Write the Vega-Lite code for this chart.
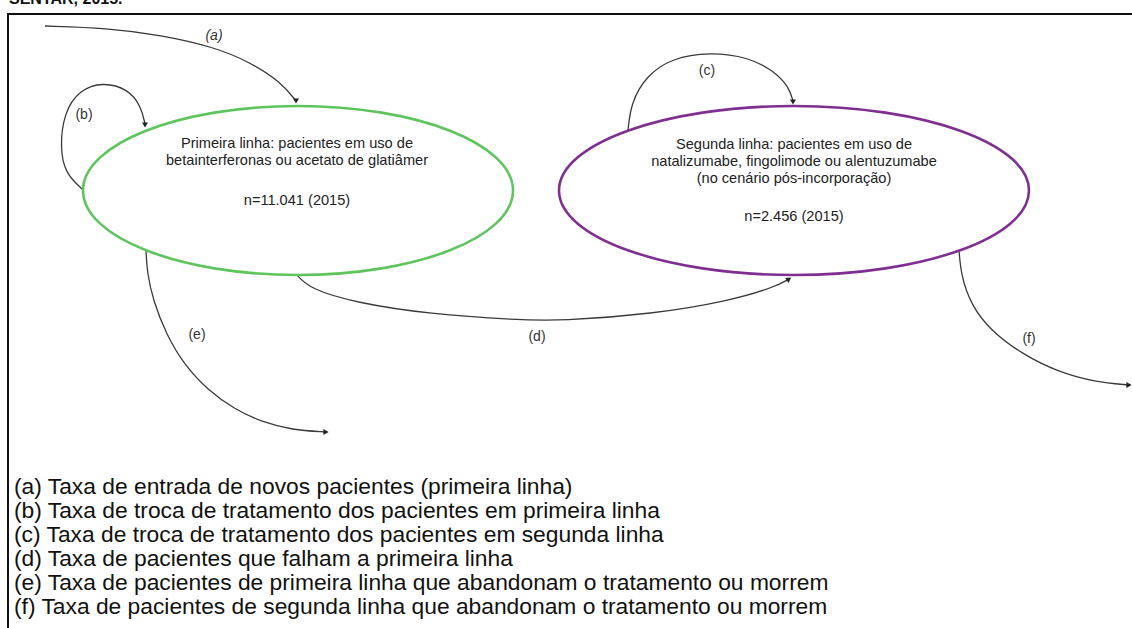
{
  "$schema": "https://vega.github.io/schema/vega-lite/v6.json",
  "width": 1132,
  "height": 628,
  "padding": 0,
  "autosize": {"type": "none"},
  "background": "white",
  "config": {"view": {"stroke": null}},
  "datasets": {
    "frame": [
      {"o": 0, "x": 1132, "y": 14},
      {"o": 1, "x": 8, "y": 14},
      {"o": 2, "x": 8, "y": 628}
    ],
    "nodes": [
      {"node": "primeira", "x": 298, "y": 190.5},
      {"node": "segunda", "x": 794, "y": 190.5}
    ],
    "curves": [
      {"c": "a", "o": 0, "x": 45, "y": 26},
      {"c": "a", "o": 1, "x": 107, "y": 28},
      {"c": "a", "o": 2, "x": 161, "y": 35},
      {"c": "a", "o": 3, "x": 214, "y": 47},
      {"c": "a", "o": 4, "x": 250, "y": 62},
      {"c": "a", "o": 5, "x": 282, "y": 83},
      {"c": "a", "o": 6, "x": 296, "y": 101},
      {"c": "b", "o": 0, "x": 82, "y": 189},
      {"c": "b", "o": 1, "x": 65, "y": 173},
      {"c": "b", "o": 2, "x": 60, "y": 147},
      {"c": "b", "o": 3, "x": 64, "y": 113},
      {"c": "b", "o": 4, "x": 79, "y": 90},
      {"c": "b", "o": 5, "x": 103, "y": 82},
      {"c": "b", "o": 6, "x": 128, "y": 89},
      {"c": "b", "o": 7, "x": 141, "y": 106},
      {"c": "b", "o": 8, "x": 145, "y": 124},
      {"c": "c", "o": 0, "x": 628, "y": 130},
      {"c": "c", "o": 1, "x": 631, "y": 103},
      {"c": "c", "o": 2, "x": 646, "y": 76},
      {"c": "c", "o": 3, "x": 672, "y": 58},
      {"c": "c", "o": 4, "x": 710, "y": 52},
      {"c": "c", "o": 5, "x": 748, "y": 57},
      {"c": "c", "o": 6, "x": 774, "y": 71},
      {"c": "c", "o": 7, "x": 789, "y": 87},
      {"c": "c", "o": 8, "x": 793, "y": 101},
      {"c": "d", "o": 0, "x": 297, "y": 275},
      {"c": "d", "o": 1, "x": 310, "y": 289},
      {"c": "d", "o": 2, "x": 357, "y": 303},
      {"c": "d", "o": 3, "x": 429, "y": 314},
      {"c": "d", "o": 4, "x": 518, "y": 320},
      {"c": "d", "o": 5, "x": 560, "y": 321},
      {"c": "d", "o": 6, "x": 653, "y": 314},
      {"c": "d", "o": 7, "x": 729, "y": 301},
      {"c": "d", "o": 8, "x": 775, "y": 287},
      {"c": "d", "o": 9, "x": 789, "y": 279},
      {"c": "e", "o": 0, "x": 146, "y": 250},
      {"c": "e", "o": 1, "x": 147, "y": 272},
      {"c": "e", "o": 2, "x": 153, "y": 300},
      {"c": "e", "o": 3, "x": 166, "y": 334},
      {"c": "e", "o": 4, "x": 185, "y": 366},
      {"c": "e", "o": 5, "x": 208, "y": 390},
      {"c": "e", "o": 6, "x": 234, "y": 409},
      {"c": "e", "o": 7, "x": 262, "y": 422},
      {"c": "e", "o": 8, "x": 292, "y": 430},
      {"c": "e", "o": 9, "x": 326, "y": 432},
      {"c": "f", "o": 0, "x": 959, "y": 250},
      {"c": "f", "o": 1, "x": 961, "y": 275},
      {"c": "f", "o": 2, "x": 971, "y": 305},
      {"c": "f", "o": 3, "x": 991, "y": 331},
      {"c": "f", "o": 4, "x": 1022, "y": 354},
      {"c": "f", "o": 5, "x": 1058, "y": 372},
      {"c": "f", "o": 6, "x": 1095, "y": 382},
      {"c": "f", "o": 7, "x": 1129, "y": 385}
    ],
    "arrows": [
      {"c": "a", "dir": "down", "x": 296, "y": 101},
      {"c": "b", "dir": "down", "x": 145, "y": 125},
      {"c": "c", "dir": "down", "x": 793, "y": 102},
      {"c": "d", "dir": "upright", "x": 789, "y": 279},
      {"c": "e", "dir": "right", "x": 326, "y": 432},
      {"c": "f", "dir": "right", "x": 1129, "y": 385}
    ],
    "labels": [
      {"c": "a", "text": "(a)", "x": 214, "y": 36},
      {"c": "b", "text": "(b)", "x": 84, "y": 115},
      {"c": "c", "text": "(c)", "x": 707, "y": 71},
      {"c": "d", "text": "(d)", "x": 537, "y": 337},
      {"c": "e", "text": "(e)", "x": 197, "y": 335},
      {"c": "f", "text": "(f)", "x": 1029, "y": 339}
    ],
    "nodetext": [
      {"text": "Primeira linha: pacientes em uso de", "x": 297, "y": 144},
      {"text": "betainterferonas ou acetato de glatiâmer", "x": 297, "y": 161},
      {"text": "n=11.041 (2015)", "x": 297, "y": 201},
      {"text": "Segunda linha: pacientes em uso de", "x": 794, "y": 145},
      {"text": "natalizumabe, fingolimode ou alentuzumabe", "x": 794, "y": 162},
      {"text": "(no cenário pós-incorporação)", "x": 794, "y": 179},
      {"text": "n=2.456 (2015)", "x": 794, "y": 217}
    ],
    "legend": [
      {"text": "(a) Taxa de entrada de novos pacientes (primeira linha)", "x": 14, "y": 487},
      {"text": "(b) Taxa de troca de tratamento dos pacientes em primeira linha", "x": 14, "y": 511},
      {"text": "(c) Taxa de troca de tratamento dos pacientes em segunda linha", "x": 14, "y": 535},
      {"text": "(d) Taxa de pacientes que falham a primeira linha", "x": 14, "y": 559},
      {"text": "(e) Taxa de pacientes de primeira linha que abandonam o tratamento ou morrem", "x": 14, "y": 583},
      {"text": "(f) Taxa de pacientes de segunda linha que abandonam o tratamento ou morrem", "x": 14, "y": 607}
    ],
    "caption": [
      {"text": "SENTAR, 2015.", "x": 9, "y": 4}
    ]
  },
  "encoding": {
    "x": {"field": "x", "type": "quantitative", "scale": {"domain": [0, 1132], "nice": false, "zero": false}, "axis": null},
    "y": {"field": "y", "type": "quantitative", "scale": {"domain": [0, 628], "nice": false, "zero": false, "reverse": true}, "axis": null}
  },
  "layer": [
    {
      "data": {"name": "frame"},
      "mark": {"type": "line", "stroke": "#111111", "strokeWidth": 2, "clip": false},
      "encoding": {"order": {"field": "o", "type": "quantitative"}}
    },
    {
      "data": {"name": "curves"},
      "mark": {"type": "line", "interpolate": "basis", "stroke": "#3a3a3a", "strokeWidth": 1.3},
      "encoding": {
        "detail": {"field": "c", "type": "nominal"},
        "order": {"field": "o", "type": "quantitative"}
      }
    },
    {
      "data": {"name": "nodes"},
      "transform": [{"filter": "datum.node === 'primeira'"}],
      "mark": {
        "type": "point",
        "filled": false,
        "opacity": 1,
        "stroke": "#5ec55e",
        "strokeWidth": 2.6,
        "size": 184900,
        "shape": "M-1,0C-1,-0.217 -0.552,-0.393 0,-0.393C0.552,-0.393 1,-0.217 1,0C1,0.217 0.552,0.393 0,0.393C-0.552,0.393 -1,0.217 -1,0Z"
      }
    },
    {
      "data": {"name": "nodes"},
      "transform": [{"filter": "datum.node === 'segunda'"}],
      "mark": {
        "type": "point",
        "filled": false,
        "opacity": 1,
        "stroke": "#7f2f8f",
        "strokeWidth": 2.6,
        "size": 220900,
        "shape": "M-1,0C-1,-0.1986 -0.552,-0.3596 0,-0.3596C0.552,-0.3596 1,-0.1986 1,0C1,0.1986 0.552,0.3596 0,0.3596C-0.552,0.3596 -1,0.1986 -1,0Z"
      }
    },
    {
      "data": {"name": "arrows"},
      "transform": [{"filter": "datum.dir === 'down'"}],
      "mark": {"type": "point", "shape": "triangle-down", "filled": true, "opacity": 1, "color": "#222222", "size": 36}
    },
    {
      "data": {"name": "arrows"},
      "transform": [{"filter": "datum.dir === 'right'"}],
      "mark": {"type": "point", "shape": "triangle-right", "filled": true, "opacity": 1, "color": "#222222", "size": 36, "clip": false}
    },
    {
      "data": {"name": "arrows"},
      "transform": [{"filter": "datum.dir === 'upright'"}],
      "mark": {"type": "point", "shape": "triangle-up", "angle": 55, "filled": true, "opacity": 1, "color": "#222222", "size": 36}
    },
    {
      "data": {"name": "labels"},
      "transform": [{"filter": "datum.c === 'a'"}],
      "mark": {"type": "text", "font": "Liberation Sans", "fontSize": 14, "fontStyle": "italic", "color": "#333333", "align": "center", "baseline": "middle"},
      "encoding": {"text": {"field": "text"}}
    },
    {
      "data": {"name": "labels"},
      "transform": [{"filter": "datum.c !== 'a'"}],
      "mark": {"type": "text", "font": "Liberation Sans", "fontSize": 14, "color": "#333333", "align": "center", "baseline": "middle"},
      "encoding": {"text": {"field": "text"}}
    },
    {
      "data": {"name": "nodetext"},
      "mark": {"type": "text", "font": "Liberation Sans", "fontSize": 14.6, "color": "#222222", "align": "center", "baseline": "middle"},
      "encoding": {"text": {"field": "text"}}
    },
    {
      "data": {"name": "legend"},
      "mark": {"type": "text", "font": "Liberation Sans", "fontSize": 22.8, "color": "#111111", "align": "left", "baseline": "middle"},
      "encoding": {"text": {"field": "text"}}
    },
    {
      "data": {"name": "caption"},
      "mark": {"type": "text", "font": "Liberation Sans", "fontSize": 16, "fontWeight": "bold", "color": "#111111", "align": "left", "baseline": "alphabetic", "clip": false},
      "encoding": {"text": {"field": "text"}}
    }
  ]
}
